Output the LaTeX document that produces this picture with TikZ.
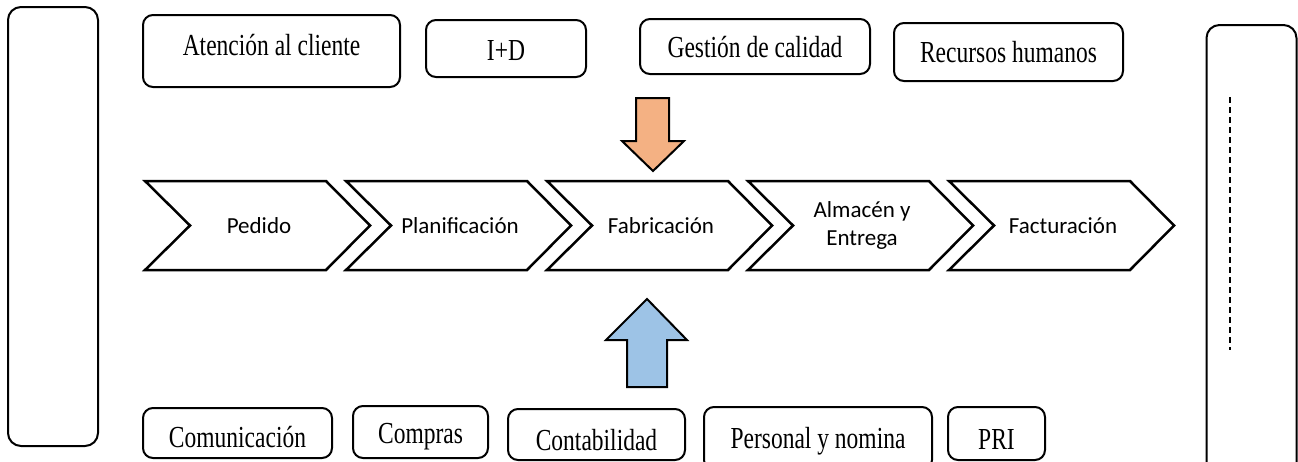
\documentclass[tikz,border=0pt]{standalone}
\usepackage{fontspec}
\setmainfont{Liberation Serif}
\newfontfamily\calfont{Carlito}
\usetikzlibrary{positioning}
\definecolor{peach}{HTML}{F4B183}
\definecolor{sky}{HTML}{9DC3E6}
\newcommand\tallt[2][0pt]{\raisebox{#1}[\height][\depth]{\scalebox{1}[1.3]{#2}}}
\tikzset{dept/.style={draw,line width=2pt,rounded corners=10pt,inner sep=0pt,align=center,font=\fontsize{23.5}{28}\selectfont},
  sidebar/.style={draw,line width=2pt,rounded corners=13pt,minimum width=90},
  stage/.style={draw,line width=2.5pt,line join=miter},
  stagetext/.style={align=center,font=\calfont\fontsize{23}{28}\selectfont,inner sep=0pt},
  block/.style={draw,line width=2pt,line join=miter}}

\begin{document}
\begin{tikzpicture}[x=1pt,y=-1pt]
\useasboundingbox (0,0) rectangle (1298,461);
% side boxes
\node[sidebar,minimum height=439] (left) at (53,226.5) {};
\node[sidebar,minimum height=460] (right) at (1251.5,255) {};
\draw[line width=1.5pt,dash pattern=on 6pt off 4pt] (1230,97) -- (1230,350);
% top row
\node[dept,minimum width=257,minimum height=72] (aten) at (271.5,51) {\tallt[6pt]{Atención al cliente}};
\node[dept,minimum width=160,minimum height=57] (imasd) at (506,48.5) {\tallt[-2pt]{I+D}};
\node[dept,minimum width=230,minimum height=55] (calidad) at (755,46.5) {\tallt[-1pt]{Gestión de calidad}};
\node[dept,minimum width=229,minimum height=58] (rrhh) at (1008.5,52) {\tallt{Recursos humanos}};
% value chain
\foreach \i/\name/\txt in {0/ped/Pedido,1/plan/Planificación,2/fab/Fabricación,3/alm/{Almacén y\\Entrega},4/fact/Facturación}{
  \pgfmathsetmacro\xl{145+201*\i}
  \draw[stage] (\xl,181) -- ++(181,0) -- ++(44,44.5) -- ++(-44,44.5) -- ++(-181,0) -- ++(45,-44.5) -- cycle;
  \node[stagetext] (\name) at (\xl+114,225.5) {\txt};
}
% arrows
\draw[block,fill=peach] (636,98) -- (669,98) -- (669,141) -- (684,141) -- (653,171) -- (622,141) -- (636,141) -- cycle;
\draw[block,fill=sky] (647,299) -- (687,340) -- (667,340) -- (667,387) -- (627,387) -- (627,340) -- (606,340) -- cycle;
% bottom row
\node[dept,minimum width=189,minimum height=50] (comu) at (237.5,433) {\tallt[-4pt]{Comunicación}};
\node[dept,minimum width=135,minimum height=52] (compras) at (420.5,432) {\tallt[-5pt]{Compras}};
\node[dept,minimum width=177,minimum height=51] (conta) at (596.5,434.5) {\tallt[-6pt]{Contabilidad}};
\node[dept,minimum width=228,minimum height=63] (nomina) at (818,438.5) {\tallt[-3pt]{Personal y nomina}};
\node[dept,minimum width=97,minimum height=53] (pri) at (996.5,433.5) {\tallt[-6pt]{PRI}};
\end{tikzpicture}
\end{document}
